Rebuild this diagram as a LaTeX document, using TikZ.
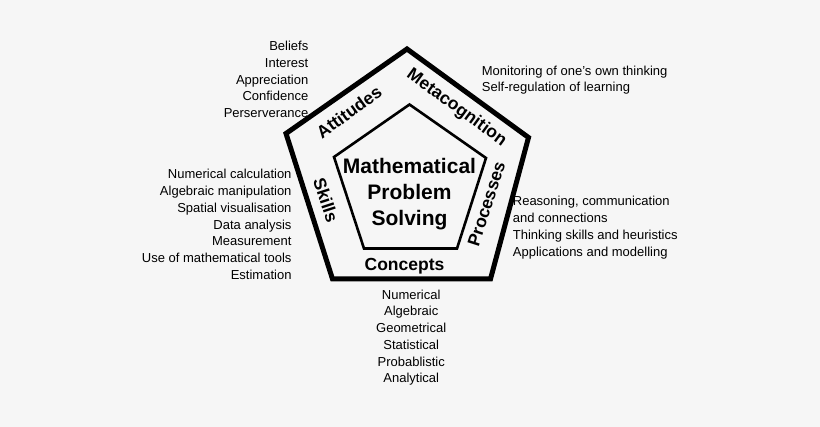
\documentclass[tikz,border=0pt]{standalone}
\usepackage{fontspec}
\setmainfont{Liberation Sans}
\definecolor{paper}{RGB}{246,246,246}

\begin{document}
\begin{tikzpicture}[x=1pt,y=-1pt,every node/.style={inner sep=0pt},
					item/.style={font=\fontsize{13}{16}\selectfont},
					facet/.style={font=\fontsize{17.5}{20}\selectfont\bfseries},
					core/.style={font=\fontsize{21}{26}\selectfont\bfseries,align=center}
					]
					\fill[paper] (0,0) rectangle (820,427);
					% the two pentagons
					\draw[line width=5pt] (407,49) -- (528.5,137.5) -- (490.5,279) -- (332.5,279) -- (286,133.5) -- cycle;
					\draw[line width=2.6pt] (409.5,104.5) -- (486,158) -- (457,248.5) -- (364,248.5) -- (334,157) -- cycle;
					\node[core] (mps) at (409.5,194) {Mathematical\\Problem\\Solving};
					% labels on the ring
					\node[facet,rotate=36] (att) at (349,112) {Attitudes};
					\node[facet,rotate=-36] (meta) at (456.5,108) {Metacognition};
					\node[facet,rotate=72] (proc) at (486.5,204) {Processes};
					\node[facet,rotate=-72] (skl) at (326,200) {Skills};
					\node[facet,anchor=base] (conc) at (404.5,271) {Concepts};
					% lists
					\foreach \txt [count=\i] in {Beliefs,Interest,Appreciation,Confidence,Perserverance}
						\node[item,anchor=base east] (att-\i) at (308.5,{50.7+16.67*(\i-1)}) {\txt};
					\foreach \txt [count=\i] in {Numerical calculation,Algebraic manipulation,Spatial visualisation,Data analysis,Measurement,Use of mathematical tools,Estimation}
						\node[item,anchor=base east] (skl-\i) at (291.7,{179+16.67*(\i-1)}) {\txt};
					\foreach \txt [count=\i] in {Monitoring of one’s own thinking,Self-regulation of learning}
						\node[item,anchor=base west] (meta-\i) at (481.7,{75.7+16*(\i-1)}) {\txt};
					\foreach \txt [count=\i] in {{Reasoning, communication},and connections,Thinking skills and heuristics,Applications and modelling}
						\node[item,anchor=base west] (proc-\i) at (512.7,{205.7+16.8*(\i-1)}) {\txt};
					\foreach \txt [count=\i] in {Numerical,Algebraic,Geometrical,Statistical,Probablistic,Analytical}
						\node[item,anchor=base] (conc-\i) at (411.2,{299.3+16.7*(\i-1)}) {\txt};
					\end{tikzpicture}
\end{document}
